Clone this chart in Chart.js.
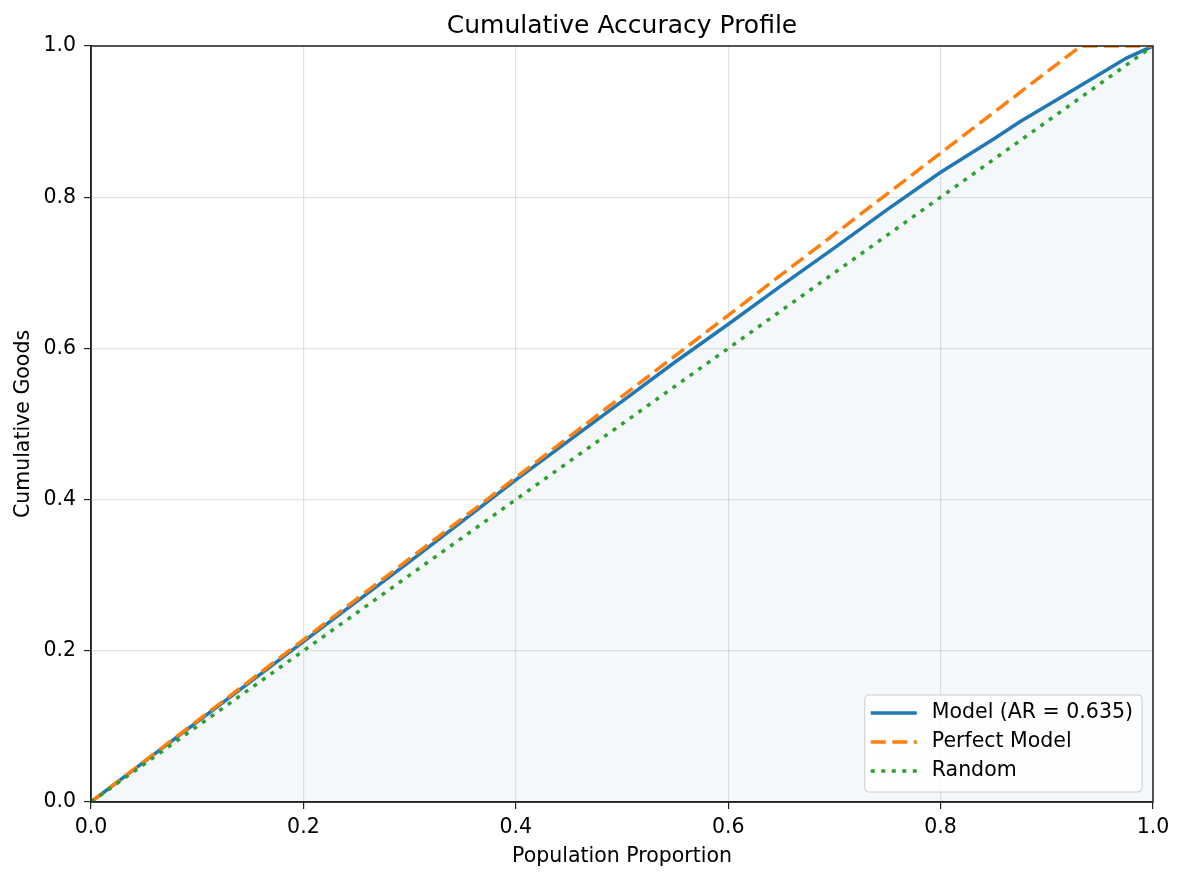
<!DOCTYPE html>
<html>
<head>
<meta charset="utf-8">
<script src="https://cdn.jsdelivr.net/npm/chart.js@4/dist/chart.umd.min.js"></script>
<style>
  html, body { margin: 0; padding: 0; background: #fff; }
  #wrap { width: 1184px; height: 881px; }
</style>
</head>
<body>
<div id="wrap"><canvas id="myChart" width="1184" height="881"></canvas></div>
<script>
    // datos
    const poblacion = [0, 0.05, 0.1, 0.15, 0.2, 0.25, 0.3, 0.35, 0.4, 0.45, 0.5, 0.55, 0.6, 0.65, 0.7, 0.75, 0.8, 0.85, 0.875, 0.9, 0.95, 0.975, 1.0];
    const modelo = [0, 0.053, 0.106, 0.159, 0.212, 0.265, 0.318, 0.372, 0.426, 0.478, 0.530, 0.582, 0.632, 0.683, 0.733, 0.784, 0.833, 0.877, 0.900, 0.921, 0.963, 0.984, 1.0];
    const perfectoX = [0, 0.932, 1.0];
    const perfectoY = [0, 1.0, 1.0];
    const azarX = [0, 1.0];
    const azarY = [0, 1.0];
    const ticksX = [0, 0.2, 0.4, 0.6, 0.8, 1.0];
    const ticksY = [0, 0.2, 0.4, 0.6, 0.8, 1.0];

    const etiquetas = ['Model (AR = 0.635)', 'Perfect Model', 'Random'];

    const fuente = 'DejaVu Sans';
    Chart.defaults.font.family = fuente;
    Chart.defaults.color = '#000';

    const pares = (xs, ys) => xs.map((x, i) => ({ x: x, y: ys[i] }));

    // marco y leyenda al estilo matplotlib
    const marcoPlugin = {
      id: 'marco',
      afterDraw(chart) {
        const { ctx, chartArea: a } = chart;
        ctx.save();
        ctx.strokeStyle = '#222';
        ctx.lineWidth = 1.5;
        ctx.strokeRect(a.left, a.top, a.right - a.left, a.bottom - a.top);

        // leyenda
        ctx.font = '20.5px "' + fuente + '"';
        const anchoTexto = Math.max(...etiquetas.map(t => ctx.measureText(t).width));
        const derecha = a.right - 11;
        const abajo = a.bottom - 10;
        const fila = 29;
        const ancho = 6 + 46 + 15 + anchoTexto + 9;
        const alto = fila * 3 + 10;
        const izq = derecha - ancho;
        const arriba = abajo - alto;
        ctx.beginPath();
        ctx.roundRect(izq, arriba, ancho, alto, 4);
        ctx.fillStyle = 'rgba(255,255,255,0.8)';
        ctx.fill();
        ctx.strokeStyle = '#cccccc';
        ctx.lineWidth = 1;
        ctx.stroke();

        const orden = [2, 1, 0];
        orden.forEach((dsIndex, i) => {
          const ds = chart.data.datasets[dsIndex];
          const y = arriba + 18 + i * fila;
          ctx.beginPath();
          ctx.strokeStyle = ds.borderColor;
          ctx.lineWidth = ds.borderWidth;
          ctx.setLineDash(ds.borderDash || []);
          ctx.moveTo(izq + 6, y);
          ctx.lineTo(izq + 52, y);
          ctx.stroke();
          ctx.setLineDash([]);
          ctx.fillStyle = '#000';
          ctx.textBaseline = 'middle';
          ctx.fillText(ds.label, izq + 67, y);
        });
        ctx.restore();
      }
    };

    const ctx = document.getElementById('myChart').getContext('2d');

    const myChart = new Chart(ctx, {
      type: 'line',
      data: {
        datasets: [
          {
            label: etiquetas[2],
            data: pares(azarX, azarY),
            borderColor: '#2ca02c',
            borderWidth: 3.5,
            borderDash: [4, 6.5],
            pointRadius: 0,
            fill: false,
            order: 0
          },
          {
            label: etiquetas[1],
            data: pares(perfectoX, perfectoY),
            borderColor: '#ff7f0e',
            borderWidth: 3.5,
            borderDash: [15, 6.5],
            pointRadius: 0,
            fill: false,
            order: 1
          },
          {
            label: etiquetas[0],
            data: pares(poblacion, modelo),
            borderColor: '#1f77b4',
            backgroundColor: 'rgba(31,119,180,0.05)',
            borderWidth: 3.5,
            pointRadius: 0,
            fill: 'origin',
            order: 2
          }
        ]
      },
      options: {
        responsive: false,
        animation: false,
        events: [],
        layout: { padding: { left: 0, right: 31, top: 0, bottom: 0 } },
        plugins: {
          legend: { display: false },
          tooltip: { enabled: false },
          title: {
            display: true,
            fullSize: false,
            text: 'Cumulative Accuracy Profile',
            font: { size: 25, weight: 'normal' },
            color: '#000',
            padding: { top: 11, bottom: 5 }
          }
        },
        scales: {
          x: {
            type: 'linear',
            position: 'bottom',
            min: 0,
            max: 1,
            afterBuildTicks: s => { s.ticks = ticksX.map(v => ({ value: v })); },
            afterFit: s => { s.height = 79; },
            ticks: {
              font: { size: 20.5 },
              color: '#000',
              padding: 6,
              maxRotation: 0,
              callback: v => v.toFixed(1)
            },
            grid: { color: 'rgba(0,0,0,0.11)', lineWidth: 1.2, tickColor: '#222', tickLength: 7 },
            border: { color: '#222', width: 1.5 },
            title: {
              display: true,
              text: 'Population Proportion',
              font: { size: 20.5 },
              color: '#000',
              padding: { top: 0, bottom: 12 }
            }
          },
          y: {
            type: 'linear',
            min: 0,
            max: 1,
            afterBuildTicks: s => { s.ticks = ticksY.map(v => ({ value: v })); },
            afterFit: s => { s.width = 91; },
            ticks: {
              font: { size: 20.5 },
              color: '#000',
              padding: 8,
              callback: v => v.toFixed(1)
            },
            grid: { color: 'rgba(0,0,0,0.11)', lineWidth: 1.2, tickColor: '#222', tickLength: 7 },
            border: { color: '#222', width: 1.5 },
            title: {
              display: true,
              text: 'Cumulative Goods',
              font: { size: 20.5 },
              color: '#000',
              padding: { top: 11, bottom: 0 }
            }
          }
        }
      },
      plugins: [marcoPlugin]
    });
</script>
</body>
</html>
